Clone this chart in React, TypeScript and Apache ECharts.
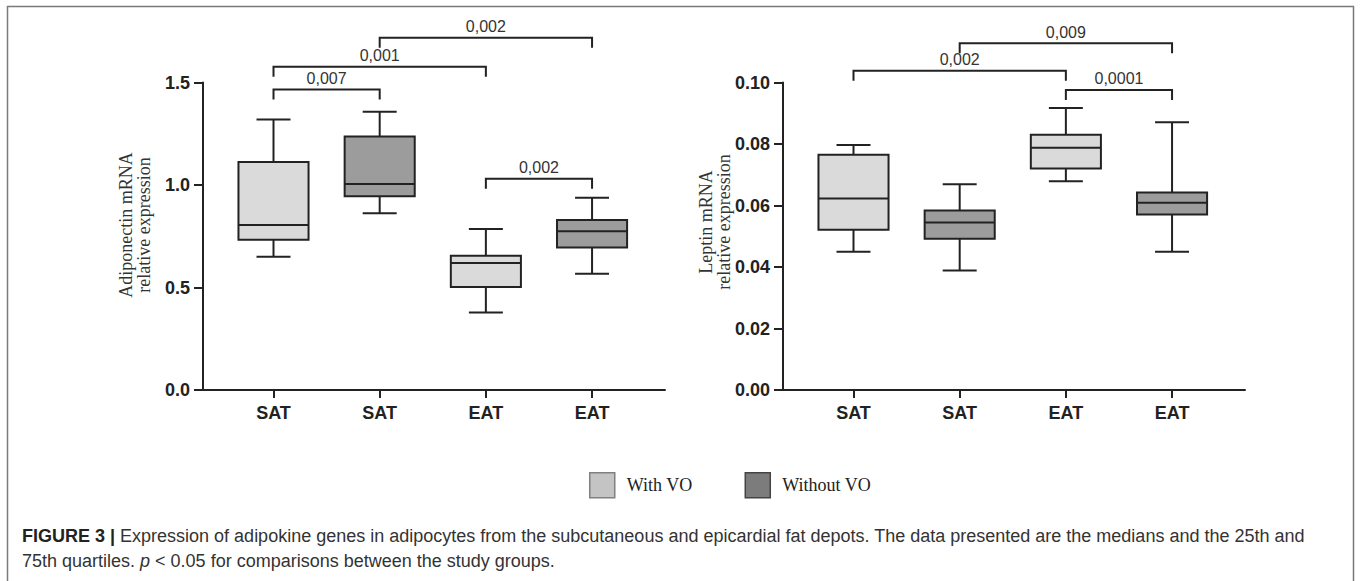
import React, { useEffect, useRef } from "react";
import * as echarts from "echarts";

// ---------- data ----------
const categories = ["SAT", "SAT", "EAT", "EAT"];
const categoryPositions = [1, 2, 3, 4];
const groupNames = ["With VO", "Without VO"];

// [position, min, Q1, median, Q3, max]
const adiponectinWithVO = [
  [1, 0.65, 0.733, 0.805, 1.112, 1.319],
  [3, 0.378, 0.502, 0.62, 0.655, 0.785],
];
const adiponectinWithoutVO = [
  [2, 0.862, 0.945, 1.005, 1.236, 1.357],
  [4, 0.567, 0.695, 0.774, 0.829, 0.938],
];
const leptinWithVO = [
  [1, 0.045, 0.0521, 0.0623, 0.0765, 0.0797],
  [3, 0.0679, 0.072, 0.0788, 0.083, 0.0917],
];
const leptinWithoutVO = [
  [2, 0.0389, 0.0492, 0.0545, 0.0584, 0.0669],
  [4, 0.045, 0.0571, 0.0609, 0.0642, 0.0871],
];

// [from position, to position, bracket height, p-value label]
const adiponectinBrackets = [
  [1, 2, 1.466, "0,007"],
  [1, 3, 1.577, "0,001"],
  [2, 4, 1.718, "0,002"],
  [3, 4, 1.031, "0,002"],
];
const leptinBrackets = [
  [1, 3, 0.1038, "0,002"],
  [2, 4, 0.1128, "0,009"],
  [3, 4, 0.0976, "0,0001"],
];

const adiponectinAxis = { min: 0, max: 1.5, interval: 0.5, decimals: 1 };
const leptinAxis = { min: 0, max: 0.1, interval: 0.02, decimals: 2 };

const yTitles = ["Adiponectin mRNA\nrelative expression", "Leptin mRNA\nrelative expression"];
const captionLine1 =
  "Expression of adipokine genes in adipocytes from the subcutaneous and epicardial fat depots. The data presented are the medians and the 25th and";
const captionLine2a = "75th quartiles. ";
const captionLine2b = " < 0.05 for comparisons between the study groups.";

// ---------- styles ----------
const INK = "#222222";
const BOX_LIGHT = "#dadada";
const BOX_DARK = "#9c9c9c";
const LEG_LIGHT = "#c4c4c4";
const LEG_DARK = "#7c7c7c";
const SANS = "'Liberation Sans', Arial, sans-serif";
const SERIF = "'Liberation Serif', 'Times New Roman', serif";

function boxRenderer(fill: string) {
  return (params: any, api: any) => {
    const x = api.value(0);
    const pMin = api.coord([x, api.value(1)]);
    const pQ1 = api.coord([x, api.value(2)]);
    const pMed = api.coord([x, api.value(3)]);
    const pQ3 = api.coord([x, api.value(4)]);
    const pMax = api.coord([x, api.value(5)]);
    const band = api.size([1, 0])[0];
    const bw = band * 0.66;
    const cw = band * 0.32;
    const cx = pMed[0];
    const ls = { stroke: INK, lineWidth: 2 };
    return {
      type: "group",
      children: [
        { type: "line", shape: { x1: cx, y1: pMax[1], x2: cx, y2: pQ3[1] }, style: ls },
        { type: "line", shape: { x1: cx, y1: pQ1[1], x2: cx, y2: pMin[1] }, style: ls },
        { type: "line", shape: { x1: cx - cw / 2, y1: pMax[1], x2: cx + cw / 2, y2: pMax[1] }, style: ls },
        { type: "line", shape: { x1: cx - cw / 2, y1: pMin[1], x2: cx + cw / 2, y2: pMin[1] }, style: ls },
        {
          type: "rect",
          shape: { x: cx - bw / 2, y: pQ3[1], width: bw, height: pQ1[1] - pQ3[1] },
          style: { fill, stroke: INK, lineWidth: 2 },
        },
        { type: "line", shape: { x1: cx - bw / 2, y1: pMed[1], x2: cx + bw / 2, y2: pMed[1] }, style: ls },
      ],
    };
  };
}

function bracketRenderer(params: any, api: any) {
  const a = api.value(0);
  const b = api.value(1);
  const h = api.value(2);
  const label = api.value(3);
  const p1 = api.coord([a, h]);
  const p2 = api.coord([b, h]);
  const leg = 10;
  return {
    type: "group",
    children: [
      {
        type: "polyline",
        shape: { points: [[p1[0], p1[1] + leg], [p1[0], p1[1]], [p2[0], p2[1]], [p2[0], p2[1] + leg]] },
        style: { stroke: INK, lineWidth: 2, fill: "none" },
      },
      {
        type: "text",
        x: (p1[0] + p2[0]) / 2,
        y: p1[1] - 3,
        style: {
          text: String(label),
          align: "center",
          verticalAlign: "bottom",
          fontSize: 16,
          fontFamily: SANS,
          fill: "#333",
        },
      },
    ],
  };
}

function makeXAxis(gridIndex: number) {
  return {
    type: "value",
    gridIndex,
    min: 0.336,
    max: 4.687,
    splitLine: { show: false },
    axisLine: { show: true, lineStyle: { color: INK, width: 2 } },
    axisTick: { show: true, length: 8, lineStyle: { color: INK, width: 2 }, customValues: categoryPositions },
    axisLabel: {
      customValues: categoryPositions,
      formatter: (v: number) => categories[Math.round(v) - 1] ?? "",
      margin: 14,
      fontSize: 18,
      fontWeight: "bold",
      fontFamily: SANS,
      color: INK,
    },
  };
}

function makeYAxis(gridIndex: number, ax: any) {
  return {
    type: "value",
    gridIndex,
    min: ax.min,
    max: ax.max,
    interval: ax.interval,
    splitLine: { show: false },
    axisLine: { show: true, lineStyle: { color: INK, width: 2 } },
    axisTick: { show: true, length: 9, lineStyle: { color: INK, width: 2 } },
    axisLabel: {
      formatter: (v: number) => v.toFixed(ax.decimals),
      margin: 13,
      fontSize: 18,
      fontWeight: "bold",
      fontFamily: SANS,
      color: INK,
    },
  };
}

function boxSeries(name: string, data: any[], idx: number, fill: string) {
  return {
    type: "custom",
    name,
    xAxisIndex: idx,
    yAxisIndex: idx,
    data,
    encode: { x: 0, y: [1, 2, 3, 4, 5] },
    itemStyle: { color: fill },
    renderItem: boxRenderer(fill),
    clip: false,
  };
}

function bracketSeries(data: any[], idx: number) {
  return {
    type: "custom",
    name: "brackets" + idx,
    xAxisIndex: idx,
    yAxisIndex: idx,
    data,
    dimensions: ["from", "to", "height", { name: "label", type: "ordinal" }],
    encode: { x: [0, 1], y: 2 },
    renderItem: bracketRenderer,
    clip: false,
    silent: true,
  };
}

export default function App() {
  const ref = useRef<HTMLDivElement>(null);
  useEffect(() => {
    if (!ref.current) return;
    const chart = echarts.init(ref.current, undefined, { renderer: "svg" });
    const option: any = {
      animation: false,
      backgroundColor: "#ffffff",
      grid: [
        { left: 203, top: 82.5, width: 462, height: 307.5 },
        { left: 783, top: 82.5, width: 462, height: 307.5 },
      ],
      xAxis: [makeXAxis(0), makeXAxis(1)],
      yAxis: [makeYAxis(0, adiponectinAxis), makeYAxis(1, leptinAxis)],
      legend: {
        left: 584,
        top: 467,
        icon: "rect",
        itemWidth: 25,
        itemHeight: 25,
        itemGap: 52,
        textStyle: { fontFamily: SERIF, fontSize: 18, color: INK, padding: [0, 0, 0, 7] },
        data: [
          { name: groupNames[0], itemStyle: { color: LEG_LIGHT, borderColor: "#808080", borderWidth: 1.5 } },
          { name: groupNames[1], itemStyle: { color: LEG_DARK, borderColor: "#444", borderWidth: 1.5 } },
        ],
        selectedMode: false,
      },
      series: [
        boxSeries(groupNames[0], adiponectinWithVO, 0, BOX_LIGHT),
        boxSeries(groupNames[1], adiponectinWithoutVO, 0, BOX_DARK),
        boxSeries(groupNames[0], leptinWithVO, 1, BOX_LIGHT),
        boxSeries(groupNames[1], leptinWithoutVO, 1, BOX_DARK),
        bracketSeries(adiponectinBrackets, 0),
        bracketSeries(leptinBrackets, 1),
      ],
      graphic: [
        {
          type: "rect",
          silent: true,
          shape: { x: 7.5, y: 6.5, width: 1346, height: 640 },
          style: { fill: "none", stroke: "#7a7a7a", lineWidth: 1.5 },
        },
        {
          type: "text",
          x: 135,
          y: 225,
          rotation: Math.PI / 2,
          style: {
            text: yTitles[0],
            align: "center",
            verticalAlign: "middle",
            fontSize: 18,
            lineHeight: 18,
            fontFamily: SERIF,
            fill: "#333",
          },
        },
        {
          type: "text",
          x: 715,
          y: 222,
          rotation: Math.PI / 2,
          style: {
            text: yTitles[1],
            align: "center",
            verticalAlign: "middle",
            fontSize: 18,
            lineHeight: 18,
            fontFamily: SERIF,
            fill: "#333",
          },
        },
        {
          type: "text",
          x: 22,
          y: 523,
          style: {
            text:
              "{b|FIGURE 3 |} " + captionLine1 + "\n" + captionLine2a + "{i|p}" + captionLine2b,
            fontSize: 18,
            lineHeight: 25,
            fontFamily: SANS,
            fill: "#333",
            verticalAlign: "top",
            rich: {
              b: { fontWeight: "bold", fontSize: 18, lineHeight: 25, fontFamily: SANS, fill: "#222" },
              i: { fontStyle: "italic", fontSize: 18, lineHeight: 25, fontFamily: SANS, fill: "#333" },
            },
          },
        },
      ],
    };
    chart.setOption(option);
    return () => chart.dispose();
  }, []);
  return (
    <div
      ref={ref}
      style={{ position: "absolute", left: 0, top: 0, width: 1360, height: 581, background: "#fff" }}
    />
  );
}
